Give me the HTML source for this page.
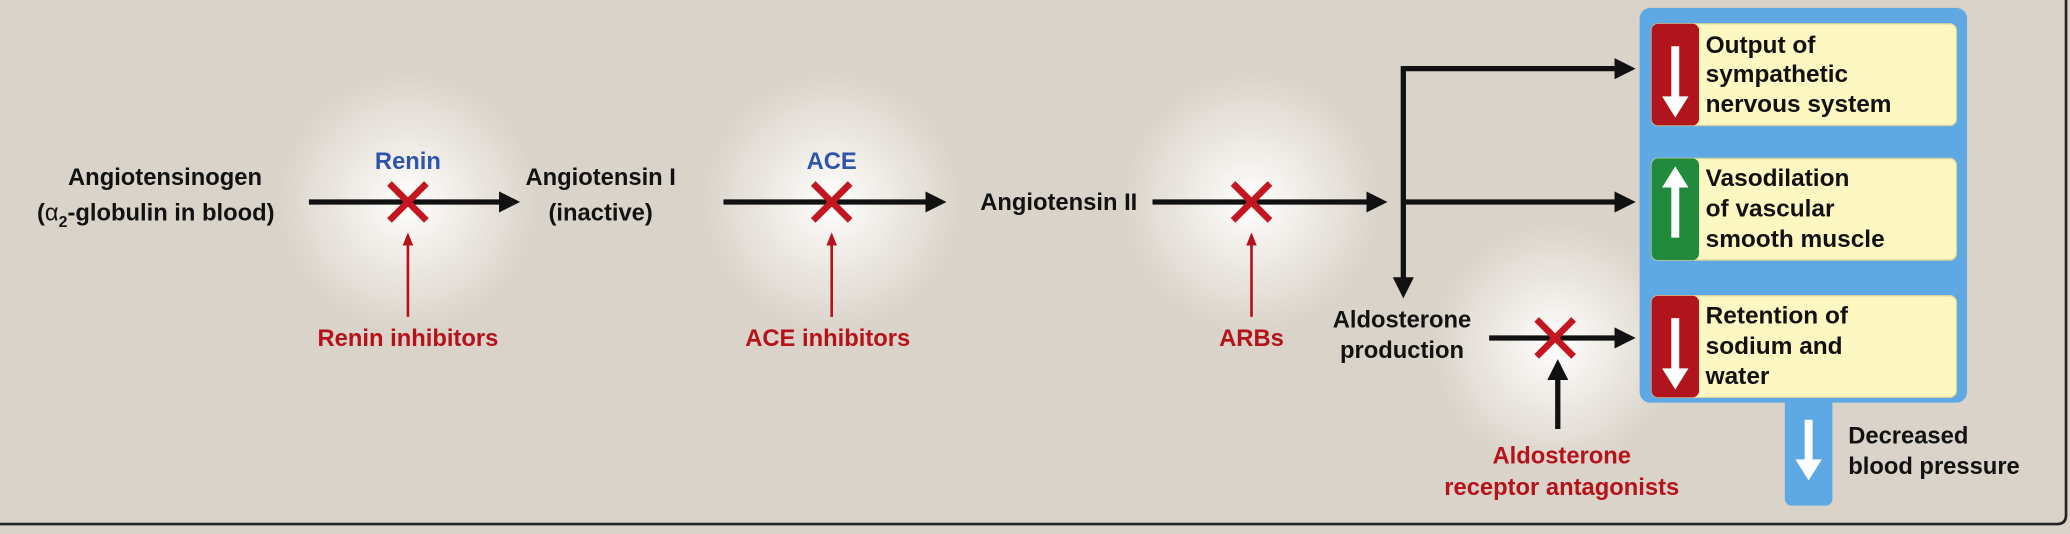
<!DOCTYPE html>
<html><head><style>html,body{margin:0;padding:0;background:#d9d3c9;}svg{display:block}</style></head><body>
<svg width="2070" height="534" viewBox="0 0 1568 404.5" xmlns="http://www.w3.org/2000/svg" font-family="'Liberation Sans Narrow','Liberation Sans',sans-serif" font-weight="bold">
<defs>
<radialGradient id="g"><stop offset="0" stop-color="#ffffff"/><stop offset="0.45" stop-color="#eeeae4"/><stop offset="1" stop-color="#d9d3c9"/></radialGradient>
<marker id="ab" markerWidth="16" markerHeight="16" refX="12" refY="8" orient="auto" markerUnits="userSpaceOnUse" viewBox="0 0 16 16"><path d="M0,0 L16,8 L0,16 z" fill="#111"/></marker>
</defs>
<rect width="1568" height="404.5" fill="#d9d3c9"/>
<path d="M0,397 H1558 Q1565,397 1565,390 V0" fill="none" stroke="#222" stroke-width="2"/>
<circle cx="309" cy="153" r="100" fill="url(#g)"/>
<circle cx="630" cy="153" r="100" fill="url(#g)"/>
<circle cx="948" cy="153" r="100" fill="url(#g)"/>
<circle cx="1178" cy="262" r="95" fill="url(#g)"/>
<g font-size="18" fill="#111" text-anchor="middle">
<text x="125" y="140">Angiotensinogen</text>
<text x="118" y="167">(<tspan font-weight="normal">α</tspan><tspan font-size="12" dy="5">2</tspan><tspan dy="-5">-globulin in blood)</tspan></text>
<text x="455" y="140">Angiotensin I</text>
<text x="455" y="167">(inactive)</text>
<text x="802" y="159">Angiotensin II</text>
<text x="1062" y="248">Aldosterone</text>
<text x="1062" y="271">production</text>
<text x="1400" y="336" text-anchor="start">Decreased</text>
<text x="1400" y="359" text-anchor="start">blood pressure</text>
</g>
<g font-size="18" fill="#2f55a8" text-anchor="middle"><text x="309" y="128">Renin</text><text x="630" y="128">ACE</text></g>
<g font-size="18" fill="#b5121b" text-anchor="middle">
<text x="309" y="262">Renin inhibitors</text>
<text x="627" y="262">ACE inhibitors</text>
<text x="948" y="262">ARBs</text>
<text x="1183" y="351">Aldosterone</text>
<text x="1183" y="375">receptor antagonists</text>
</g>
<g stroke="#111" stroke-width="4" fill="none">
<line x1="234" y1="153" x2="390" y2="153" marker-end="url(#ab)"/>
<line x1="548" y1="153" x2="713" y2="153" marker-end="url(#ab)"/>
<line x1="873" y1="153" x2="1047" y2="153" marker-end="url(#ab)"/>
<polyline points="1063,218 1063,52 1235,52" marker-end="url(#ab)"/>
<line x1="1065" y1="153" x2="1235" y2="153" marker-end="url(#ab)"/>
<line x1="1128" y1="256" x2="1235" y2="256" marker-end="url(#ab)"/>
<line x1="1180" y1="325" x2="1180" y2="276" marker-end="url(#ab)"/>
</g>
<path d="M1055,210 L1071,210 L1063,226 z" fill="#111"/>
<g stroke="#b5121b" stroke-width="2"><line x1="309" y1="240" x2="309" y2="182"/><line x1="630" y1="240" x2="630" y2="182"/><line x1="948" y1="240" x2="948" y2="182"/></g>
<g fill="#b5121b"><path d="M305,186 L309,176 L313,186z"/><path d="M626,186 L630,176 L634,186z"/><path d="M944,186 L948,176 L952,186z"/></g>
<g stroke="#c4161f" stroke-width="5">
<path d="M295,139 L323,167 M323,139 L295,167"/>
<path d="M616,139 L644,167 M644,139 L616,167"/>
<path d="M934,139 L962,167 M962,139 L934,167"/>
<path d="M1164,242 L1192,270 M1192,242 L1164,270"/>
</g>
<rect x="1242" y="6" width="248" height="299" rx="8" fill="#5ea9e3"/>
<rect x="1352" y="295" width="36" height="88" rx="5" fill="#5ea9e3"/>
<path d="M1367,318 h6 v30 h7 l-10,16 l-10,-16 h7z" fill="#fff"/>
<g>
<rect x="1251" y="18" width="231" height="77" rx="5" fill="#fdf8c2" stroke="#d8d39a"/>
<rect x="1251" y="18" width="36" height="77" rx="5" fill="#b0141c"/>
<path d="M1266,35 h6 v38 h7 l-10,16 l-10,-16 h7z" fill="#fff"/>
<rect x="1251" y="120" width="231" height="77" rx="5" fill="#fdf8c2" stroke="#d8d39a"/>
<rect x="1251" y="120" width="36" height="77" rx="5" fill="#228a3c"/>
<path d="M1266,180 h6 v-38 h7 l-10,-16 l-10,16 h7z" fill="#fff"/>
<rect x="1251" y="224" width="231" height="77" rx="5" fill="#fdf8c2" stroke="#d8d39a"/>
<rect x="1251" y="224" width="36" height="77" rx="5" fill="#b0141c"/>
<path d="M1266,241 h6 v38 h7 l-10,16 l-10,-16 h7z" fill="#fff"/>
</g>
<g font-size="18.5" fill="#111">
<text x="1292" y="40">Output of</text><text x="1292" y="62">sympathetic</text><text x="1292" y="85">nervous system</text>
<text x="1292" y="141">Vasodilation</text><text x="1292" y="164">of vascular</text><text x="1292" y="187">smooth muscle</text>
<text x="1292" y="245">Retention of</text><text x="1292" y="268">sodium and</text><text x="1292" y="291">water</text>
</g>
</svg>
</body></html>
